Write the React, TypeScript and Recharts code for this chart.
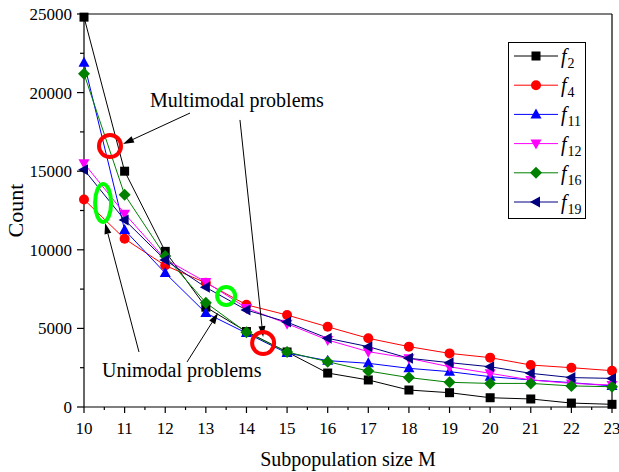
import React from 'react';
import {
  LineChart, Line, XAxis, YAxis, ReferenceLine, ReferenceDot, Legend,
} from 'recharts';

const mValues = [10, 11, 12, 13, 14, 15, 16, 17, 18, 19, 20, 21, 22, 23];
const f2 = [24800, 15000, 9900, 6350, 4800, 3500, 2160, 1720, 1080, 910, 590, 510, 250, 170];
const f4 = [13200, 10700, 9000, 7900, 6500, 5850, 5100, 4370, 3840, 3410, 3140, 2670, 2500, 2310];
const f11 = [21900, 11260, 8520, 5980, 4700, 3430, 2950, 2780, 2460, 2250, 1930, 1720, 1550, 1340];
const f12 = [15500, 12300, 9400, 7950, 6300, 5300, 4260, 3520, 3100, 2560, 2140, 1720, 1500, 1400];
const f16 = [21200, 13500, 9600, 6630, 4750, 3500, 2880, 2290, 1870, 1570, 1500, 1500, 1340, 1290];
const f19 = [15100, 11900, 9350, 7610, 6170, 5400, 4370, 3840, 3100, 2820, 2560, 2140, 1870, 1820];

const xTicks = [10, 10.5, 11, 11.5, 12, 12.5, 13, 13.5, 14, 14.5, 15, 15.5, 16, 16.5, 17, 17.5, 18, 18.5, 19, 19.5, 20, 20.5, 21, 21.5, 22, 22.5, 23];
const yTicks = [0, 2500, 5000, 7500, 10000, 12500, 15000, 17500, 20000, 22500, 25000];

const series = [
  { key: 'f2', sub: '2', color: '#000000', shape: 'square', values: f2 },
  { key: 'f4', sub: '4', color: '#ff0000', shape: 'circle', values: f4 },
  { key: 'f11', sub: '11', color: '#0000ff', shape: 'triUp', values: f11 },
  { key: 'f12', sub: '12', color: '#ff00ff', shape: 'triDown', values: f12 },
  { key: 'f16', sub: '16', color: '#008000', shape: 'diamond', values: f16 },
  { key: 'f19', sub: '19', color: '#000080', shape: 'triLeft', values: f19 },
];

const data = mValues.map((m, i) => {
  const row: any = { m };
  series.forEach((s) => { row[s.key] = s.values[i]; });
  return row;
});

// annotation positions in data coordinates
const redCircles = [
  { x: 10.64, y: 16600, rx: 11, ry: 11 },
  { x: 14.41, y: 4070, rx: 11, ry: 11 },
];
const greenEllipses = [
  { x: 10.47, y: 12980, rx: 8, ry: 19 },
  { x: 13.5, y: 7060, rx: 9, ry: 9 },
];
const arrows = [
  { from: { x: 12.61, y: 18700 }, to: { x: 10.96, y: 16730 } },
  { from: { x: 13.84, y: 18260 }, to: { x: 14.41, y: 4450 } },
  { from: { x: 11.354, y: 3500 }, to: { x: 10.52, y: 11700 } },
  { from: { x: 12.536, y: 2860 }, to: { x: 13.3, y: 5980 } },
];
const notes = [
  { x: 11.625, y: 19083, text: 'Multimodal problems' },
  { x: 10.443, y: 1908, text: 'Unimodal problems' },
];

const FONT = '"Liberation Serif", "Times New Roman", serif';

function Marker({ cx, cy, shape, color }: any) {
  if (cx == null || cy == null) return null;
  switch (shape) {
    case 'square':
      return <rect x={cx - 4.5} y={cy - 4.5} width={9} height={9} fill={color} />;
    case 'circle':
      return <circle cx={cx} cy={cy} r={5} fill={color} />;
    case 'triUp':
      return <polygon points={`${cx},${cy - 6} ${cx - 5.5},${cy + 4} ${cx + 5.5},${cy + 4}`} fill={color} />;
    case 'triDown':
      return <polygon points={`${cx},${cy + 6} ${cx - 5.5},${cy - 4} ${cx + 5.5},${cy - 4}`} fill={color} />;
    case 'diamond':
      return <polygon points={`${cx},${cy - 6} ${cx + 6},${cy} ${cx},${cy + 6} ${cx - 6},${cy}`} fill={color} />;
    case 'triLeft':
      return <polygon points={`${cx - 6},${cy} ${cx + 4},${cy - 5.5} ${cx + 4},${cy + 5.5}`} fill={color} />;
    default:
      return null;
  }
}

function XTick({ x, y, payload }: any) {
  const v = payload.value;
  const major = Number.isInteger(v);
  return (
    <g>
      <line x1={x} y1={y} x2={x} y2={y + (major ? 6 : 3)} stroke="#000" strokeWidth={1.2} />
      {major && (
        <text x={x} y={y + 27} textAnchor="middle" fontSize={17} fontFamily={FONT} fill="#000">{v}</text>
      )}
    </g>
  );
}

function YTick({ x, y, payload }: any) {
  const v = payload.value;
  const major = v % 5000 === 0;
  return (
    <g>
      <line x1={x - (major ? 7 : 4)} y1={y} x2={x} y2={y} stroke="#000" strokeWidth={1.2} />
      {major && (
        <text x={x - 12} y={y + 6} textAnchor="end" fontSize={17} fontFamily={FONT} fill="#000">{v}</text>
      )}
    </g>
  );
}

function ArrowShape(props: any) {
  const { x1, y1, x2, y2 } = props;
  if ([x1, y1, x2, y2].some((v) => v == null || isNaN(v))) return null;
  const ang = Math.atan2(y2 - y1, x2 - x1);
  const len = 11;
  const hw = 3.5;
  const bx = x2 - len * Math.cos(ang);
  const by = y2 - len * Math.sin(ang);
  const px = -Math.sin(ang) * hw;
  const py = Math.cos(ang) * hw;
  return (
    <g>
      <line x1={x1} y1={y1} x2={bx} y2={by} stroke="#000" strokeWidth={1} />
      <polygon points={`${x2},${y2} ${bx + px},${by + py} ${bx - px},${by - py}`} fill="#000" />
    </g>
  );
}

function LegendBox() {
  return (
    <svg width={79} height={178} style={{ display: 'block' }}>
      <rect x={0.5} y={0.5} width={77} height={176} fill="#fff" stroke="#000" strokeWidth={1} />
      {series.map((s, i) => {
        const cy = 14 + i * 29.2;
        return (
          <g key={s.key}>
            <line x1={6} y1={cy} x2={50} y2={cy} stroke={s.color} strokeWidth={1} />
            <Marker cx={28} cy={cy} shape={s.shape} color={s.color} />
            <text x={53} y={cy + 7} fontSize={20} fontStyle="italic" fontFamily={FONT} fill="#000">
              f
              <tspan dx={1} dy={5} fontSize={14} fontStyle="normal">{s.sub}</tspan>
            </text>
          </g>
        );
      })}
    </svg>
  );
}

export default function App() {
  return (
    <div style={{ position: 'absolute', left: 0, top: 0, background: '#fff' }}>
      <LineChart width={619} height={472} data={data} margin={{ top: 14, right: 7, bottom: 0, left: 0 }}>
        <XAxis
          dataKey="m"
          type="number"
          domain={[10, 23]}
          ticks={xTicks}
          interval={0}
          tick={<XTick />}
          tickLine={false}
          tickSize={0}
          tickMargin={0}
          height={65}
          axisLine={{ stroke: '#000', strokeWidth: 1.2 }}
          label={{ value: 'Subpopulation size M', position: 'insideBottom', offset: 6, fontSize: 20, fontFamily: FONT, fill: '#000' }}
        />
        <YAxis
          type="number"
          domain={[0, 25000]}
          ticks={yTicks}
          interval={0}
          tick={<YTick />}
          tickLine={false}
          tickSize={0}
          tickMargin={0}
          width={84}
          axisLine={{ stroke: '#000', strokeWidth: 1.2 }}
          label={{ value: 'Count', angle: -90, position: 'insideLeft', offset: 15, fontSize: 22, fontFamily: FONT, fill: '#000', style: { textAnchor: 'middle' } }}
        />
        <ReferenceLine y={25000} stroke="#000" strokeWidth={1.2} />
        <ReferenceLine x={23} stroke="#000" strokeWidth={1.2} />
        {series.map((s) => (
          <Line
            key={s.key}
            dataKey={s.key}
            stroke={s.color}
            strokeWidth={1}
            isAnimationActive={false}
            dot={(p: any) => <Marker key={`${s.key}-${p.index}`} cx={p.cx} cy={p.cy} shape={s.shape} color={s.color} />}
            activeDot={false}
          />
        ))}
        {redCircles.map((c, i) => (
          <ReferenceDot key={`rc${i}`} x={c.x} y={c.y} r={0}
            shape={(p: any) => <ellipse cx={p.cx} cy={p.cy} rx={c.rx} ry={c.ry} fill="none" stroke="#ff0000" strokeWidth={4} />} />
        ))}
        {greenEllipses.map((c, i) => (
          <ReferenceDot key={`ge${i}`} x={c.x} y={c.y} r={0}
            shape={(p: any) => <ellipse cx={p.cx} cy={p.cy} rx={c.rx} ry={c.ry} fill="none" stroke="#00ff00" strokeWidth={4} />} />
        ))}
        {arrows.map((a, i) => (
          <ReferenceLine key={`ar${i}`} segment={[a.from, a.to]} shape={(p: any) => <ArrowShape {...p} />} />
        ))}
        {notes.map((n, i) => (
          <ReferenceDot key={`nt${i}`} x={n.x} y={n.y} r={0}
            shape={(p: any) => (
              <text x={p.cx} y={p.cy} fontSize={20} fontFamily={FONT} fill="#000" textAnchor="start">{n.text}</text>
            )} />
        ))}
        <Legend
          layout="vertical"
          align="center"
          verticalAlign="middle"
          wrapperStyle={{ left: 508, top: 42, width: 79, height: 178 }}
          content={() => <LegendBox />}
        />
      </LineChart>
    </div>
  );
}
